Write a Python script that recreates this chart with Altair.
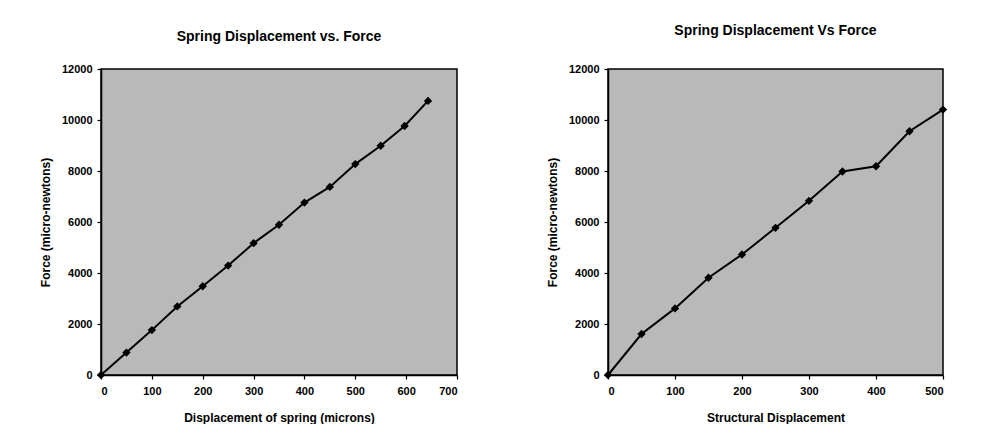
import altair as alt
import pandas as pd

# Left chart data
left_disp = [0, 50, 100, 150, 200, 250, 300, 350, 400, 450, 500, 550, 597, 643]
left_force = [0, 880, 1760, 2690, 3480, 4290, 5170, 5890, 6760, 7375, 8270, 8990, 9765, 10750]

# Right chart data
right_disp = [0, 50, 100, 150, 200, 250, 300, 350, 400, 450, 500]
right_force = [0, 1606, 2612, 3813, 4727, 5772, 6830, 7979, 8188, 9559, 10408]

left_title = "Spring Displacement vs. Force"
right_title = "Spring Displacement Vs Force"
left_xtitle = "Displacement of spring (microns)"
right_xtitle = "Structural Displacement"
ytitle = "Force (micro-newtons)"

FONT = "Liberation Sans"

df_l = pd.DataFrame({"x": left_disp, "y": left_force})
df_r = pd.DataFrame({"x": right_disp, "y": right_force})


def panel(df, xmax, xtitle, title, width, title_offset):
    xs = alt.Scale(domain=[0, xmax], nice=False, zero=True)
    ys = alt.Scale(domain=[0, 12000], nice=False)
    xax = alt.Axis(values=list(range(0, xmax + 1, 100)), title=xtitle, format="d",
                   labelPadding=6, titlePadding=16)
    yax = alt.Axis(values=list(range(0, 12001, 2000)), title=ytitle, format="d",
                   labelPadding=5, titlePadding=9)
    base = alt.Chart(df).encode(
        x=alt.X("x:Q", scale=xs, axis=xax),
        y=alt.Y("y:Q", scale=ys, axis=yax),
    )
    line = base.mark_line(color="black", strokeWidth=2)
    pts = base.mark_point(shape="diamond", filled=True, color="black", size=70, opacity=1)
    return alt.layer(line, pts).properties(
        width=width, height=306,
        title=alt.TitleParams(title, offset=title_offset, font=FONT, fontSize=14,
                              fontWeight="bold", color="black"),
    )


left = panel(df_l, 700, left_xtitle, left_title, 356, 19)
right = panel(df_r, 500, right_xtitle, right_title, 335, 25)

chart = alt.hconcat(left, right, spacing=86).properties(
    padding={"left": 30, "top": 15, "right": 0, "bottom": 0},
    background="white",
).configure_view(
    fill="#b9b9b9", stroke="black", strokeWidth=1.5
).configure_axis(
    grid=False,
    domainColor="black", domainWidth=1.5,
    tickColor="black", tickSize=4, tickWidth=1.2,
    labelFont=FONT, labelFontSize=11, labelFontWeight="bold", labelColor="black",
    titleFont=FONT, titleFontSize=12, titleFontWeight="bold", titleColor="black",
)

chart.save("out.html", embed_options={"renderer": "svg", "actions": False})
